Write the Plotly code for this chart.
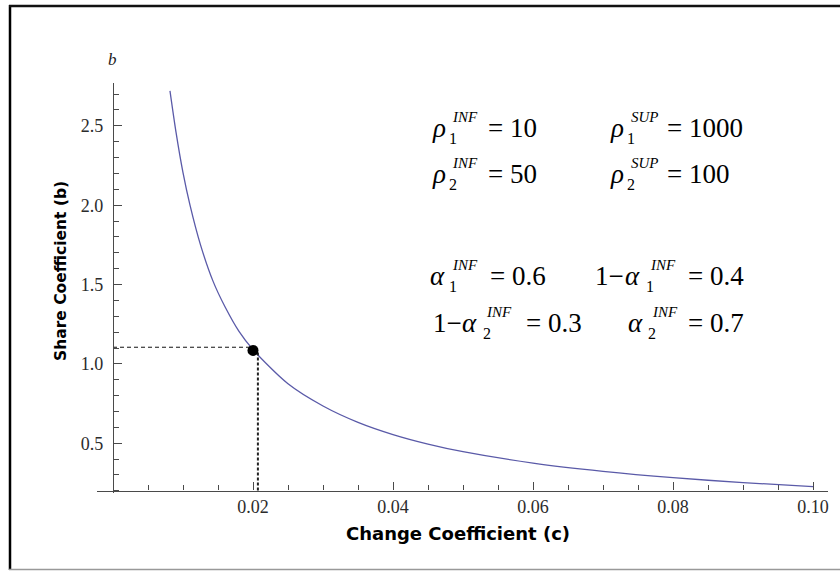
import plotly.graph_objects as go

# ---- data ----
c_vals = [0.00814, 0.0090, 0.0100, 0.0110, 0.0125, 0.0143, 0.0160, 0.0180, 0.0200,
          0.0250, 0.0300, 0.0350, 0.0400, 0.0450, 0.0500, 0.0600, 0.0700, 0.0800,
          0.0900, 0.1000]
b_vals = [2.72, 2.46, 2.205, 2.00, 1.75, 1.52, 1.36, 1.205, 1.09,
          0.875, 0.735, 0.632, 0.555, 0.495, 0.447, 0.375, 0.323, 0.283,
          0.252, 0.227]

point_c = [0.0200]
point_b = [1.085]
guide_h_c = [0.0, 0.0200]
guide_h_b = [1.105, 1.105]
guide_v_c = [0.0207, 0.0207]
guide_v_b = [0.202, 1.08]

x_tickvals = [0.02, 0.04, 0.06, 0.08, 0.10]
x_ticktext = ["0.02", "0.04", "0.06", "0.08", "0.10"]
y_tickvals = [0.5, 1.0, 1.5, 2.0, 2.5]
y_ticktext = ["0.5", "1.0", "1.5", "2.0", "2.5"]

# equations: (prefix, symbol, subscript, superscript, right-hand side)
equations = [
    ("", "ρ", "1", "INF", "= 10"),
    ("", "ρ", "1", "SUP", "= 1000"),
    ("", "ρ", "2", "INF", "= 50"),
    ("", "ρ", "2", "SUP", "= 100"),
    ("", "α", "1", "INF", "= 0.6"),
    ("1−", "α", "1", "INF", "= 0.4"),
    ("1−", "α", "2", "INF", "= 0.3"),
    ("", "α", "2", "INF", "= 0.7"),
]

# ---- layout geometry (pixels) ----
W_PX, H_PX = 840, 571
L, R, T, B = 97, 828, 83, 493
PW, PH = R - L, B - T


def px(x):
    return (x - L) / PW


def py(y):
    return (B - y) / PH


line_col = "#5a5aa8"
axis_col = "#4a4a4a"
serif = "Liberation Serif"
sans = "DejaVu Sans"
tick_font = dict(family=serif, size=18, color="#2b2b2b")

fig = go.Figure()
fig.add_trace(go.Scatter(x=c_vals, y=b_vals, mode="lines",
                         line=dict(color=line_col, width=1.3, shape="spline", smoothing=0.8),
                         hoverinfo="skip", showlegend=False))
fig.add_trace(go.Scatter(x=guide_h_c, y=guide_h_b, mode="lines",
                         line=dict(color="#111111", width=1, dash="4px,3px"),
                         showlegend=False, hoverinfo="skip"))
fig.add_trace(go.Scatter(x=guide_v_c, y=guide_v_b, mode="lines",
                         line=dict(color="#222222", width=2, dash="3px,2px"),
                         showlegend=False, hoverinfo="skip"))
fig.add_trace(go.Scatter(x=point_c, y=point_b, mode="markers",
                         marker=dict(color="black", size=11),
                         showlegend=False, hoverinfo="skip"))

annotations = []


def add_text(text, xl, yc, size, italic=False, anchor="left"):
    if italic:
        text = "<i>" + text + "</i>"
    annotations.append(dict(text=text, x=px(xl), y=py(yc), xref="paper", yref="paper",
                            xanchor=anchor, yanchor="middle", showarrow=False,
                            borderpad=0, font=dict(family=serif, size=size, color="black")))


# equation placement: (prefix_left, symbol_left, sub_left, sup_left, rhs_left, row_center)
eq_pos = [
    (None, 431, 448, 451, 487, 128),
    (None, 609, 626, 630, 666, 128),
    (None, 431, 448, 451, 487, 174),
    (None, 609, 626, 630, 666, 174),
    (None, 429, 448, 451, 489, 276),
    (594, 624, 645, 649, 687, 276),
    (432, 461, 482, 485, 525, 323),
    (None, 627, 647, 651, 687, 323),
]
for (pre, sym, sub, sup, rhs), (xpre, xs, xsub, xsup, xr, yc) in zip(equations, eq_pos):
    if pre:
        add_text(pre, xpre, yc, 27)
    add_text(sym, xs, yc, 27, italic=True)
    add_text(sub, xsub, yc + 10, 16)
    add_text(sup, xsup, yc - 11, 15, italic=True)
    add_text(rhs, xr, yc, 27)

# axis label "b" at top of the y axis
annotations.append(dict(text="<i>b</i>", x=px(112), y=py(60), xref="paper", yref="paper",
                        xanchor="center", yanchor="middle", showarrow=False,
                        font=dict(family=serif, size=17, color="#222222")))
# axis titles
annotations.append(dict(text="<b>Share Coefficient (b)</b>", x=px(61), y=py(271),
                        xref="paper", yref="paper", xanchor="center", yanchor="middle",
                        textangle=-90, showarrow=False,
                        font=dict(family=sans, size=15.5, color="black")))
annotations.append(dict(text="<b>Change Coefficient (c)</b>", x=px(458), y=py(533),
                        xref="paper", yref="paper", xanchor="center", yanchor="middle",
                        showarrow=False,
                        font=dict(family=sans, size=18, color="black")))

shapes = [
    dict(type="line", xref="paper", yref="paper", x0=px(10), x1=px(10), y0=py(5), y1=py(570),
         line=dict(color="black", width=2.5)),
    dict(type="line", xref="paper", yref="paper", x0=px(9), x1=px(841), y0=py(6), y1=py(6),
         line=dict(color="#111111", width=2.5)),
    dict(type="line", xref="paper", yref="paper", x0=px(9), x1=px(841), y0=py(569.5), y1=py(569.5),
         line=dict(color="#999999", width=1.5)),
]

x_min = -(113 - L) / 7000
x_max = 0.1 + (R - 813) / 7000
y_max = 2.77
y_min = y_max - PH / 158.7

fig.update_layout(
    width=W_PX, height=H_PX,
    margin=dict(l=L, r=W_PX - R, t=T, b=H_PX - B, pad=0),
    paper_bgcolor="white", plot_bgcolor="white",
    annotations=annotations, shapes=shapes, showlegend=False,
    xaxis=dict(range=[x_min, x_max], showgrid=False, zeroline=False,
               showline=True, linecolor=axis_col, linewidth=1.2,
               anchor="free", position=(0.202 - y_min) / (y_max - y_min),
               tickmode="array", tickvals=x_tickvals, ticktext=x_ticktext,
               ticks="inside", ticklen=8, tickwidth=1, tickcolor=axis_col,
               ticklabelstandoff=0, tickfont=tick_font,
               minor=dict(dtick=0.005, tick0=0, ticks="inside", ticklen=5,
                          tickwidth=1, tickcolor=axis_col)),
    yaxis=dict(range=[y_min, y_max], showgrid=False, zeroline=False,
               showline=True, linecolor=axis_col, linewidth=1.2,
               anchor="free", position=(113 - L) / PW,
               tickmode="array", tickvals=y_tickvals, ticktext=y_ticktext,
               ticks="inside", ticklen=8, tickwidth=1, tickcolor=axis_col,
               ticklabelstandoff=6, tickfont=tick_font,
               minor=dict(dtick=0.1, tick0=0, ticks="inside", ticklen=5,
                          tickwidth=1, tickcolor=axis_col)),
)

fig.write_html("out.html", config={"displayModeBar": False},
               post_script="document.body.style.margin='0px';")
